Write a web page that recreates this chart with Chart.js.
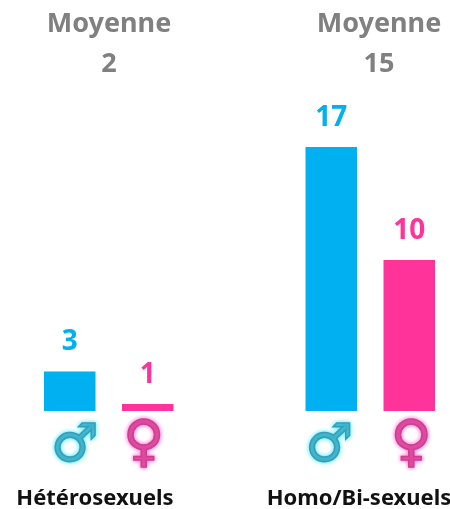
<!DOCTYPE html>
<html><head><meta charset="utf-8">
<style>html,body{margin:0;padding:0;background:#fff;overflow:hidden;width:450px;height:509px}
#w{position:absolute;left:-22px;top:0;width:523px;height:509px}</style>
<script src="https://cdn.jsdelivr.net/npm/chart.js@4"></script></head>
<body><div id="w"><canvas id="c"></canvas></div>
<script>
const categories = ["Hétérosexuels", "Homo/Bi-sexuels"];
const seriesNames = ["Hommes", "Femmes"];
const menHeights = [2.55, 17];
const womenHeights = [0.45, 9.72];
const menLabels = ["3", "17"];
const womenLabels = ["1", "10"];
const meanTitle = "Moyenne";
const means = ["2", "15"];
const BLUE = "#00b0f0", PINK = "#ff3399", GREY = "#808080";
const FONT = '"Noto Sans"';
const textPlugin = {
  id: "texts",
  afterDatasetsDraw(chart) {
    const ctx = chart.ctx;
    ctx.save();
    ctx.textAlign = "center";
    ctx.textBaseline = "alphabetic";
    const shift = 22; // canvas is offset to the left of the window
    // means
    ctx.fillStyle = GREY;
    ctx.font = "bold 27px " + FONT;
    [109, 379].forEach((x, i) => {
      ctx.fillText(meanTitle, x + shift, 32);
      ctx.fillText(means[i], x + shift, 72);
    });
    // category labels
    ctx.fillStyle = "#111";
    ctx.font = "bold 22px " + FONT;
    [95, 359].forEach((x, i) => ctx.fillText(categories[i], x + shift, 505));
    // value labels
    ctx.font = "bold 28px " + FONT;
    [[menLabels, BLUE], [womenLabels, PINK]].forEach(([labels, col], d) => {
      ctx.fillStyle = col;
      chart.getDatasetMeta(d).data.forEach((el, i) => ctx.fillText(labels[i], el.x, el.y - 21));
    });
    // gender symbols
    ctx.textBaseline = "middle";
    ctx.lineWidth = 1.6;
    const sym = [["\u2642", "#3b9db8", "#40e8f5", [5, -2], 53, 447], ["\u2640", "#cf3f8c", "#ff60d0", [-4, 2], 56, 445]];
    sym.forEach(([g, col, glow, dx, size, y], d) => {
      ctx.font = "bold " + size + "px 'DejaVu Sans'";
      chart.getDatasetMeta(d).data.forEach((el, i) => {
        ctx.fillStyle = col;
        ctx.strokeStyle = col;
        ctx.shadowColor = glow;
        ctx.shadowBlur = 4;
        ctx.fillText(g, el.x + dx[i], y);
        ctx.strokeText(g, el.x + dx[i], y);
      });
    });
    ctx.restore();
  }
};
new Chart(document.getElementById("c"), {
  type: "bar",
  data: {
    labels: categories,
    datasets: [
      { label: seriesNames[0], data: menHeights, backgroundColor: BLUE },
      { label: seriesNames[1], data: womenHeights, backgroundColor: PINK }
    ]
  },
  options: {
    responsive: true, maintainAspectRatio: false, animation: false,
    layout: { padding: { top: 0, bottom: 98, left: 0, right: 0 } },
    categoryPercentage: 0.5966, barPercentage: 0.66,
    plugins: { legend: { display: false }, tooltip: { enabled: false } },
    scales: {
      x: { display: false, grid: { display: false } },
      y: { display: false, min: 0, max: 26.46, grid: { display: false } }
    }
  },
  plugins: [textPlugin]
});
</script></body></html>
